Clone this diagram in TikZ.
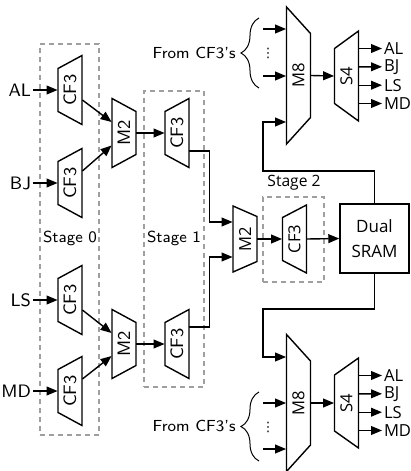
\documentclass[tikz,border=0pt]{standalone}
\usepackage{fontspec}
\usepackage{graphicx}
\newfontfamily\osans{Open Sans}
\newfontfamily\djv{DejaVu Sans}
\usetikzlibrary{calc,arrows.meta,decorations.pathreplacing}
\newcommand\trapz[7]{%
  \node[#1] (#2) at (#3,#4) {\rotatebox{90}{#7}};
  \draw[outl] ($(#2.center)+(-12,-#5)$) -- ($(#2.center)+(12,-#6)$) -- ($(#2.center)+(12,#6)$) -- ($(#2.center)+(-12,#5)$) -- cycle;
}
\begin{document}
\begin{tikzpicture}[x=0.5pt,y=-0.5pt,
  blk/.style={inner sep=0pt, minimum width=12pt, font=\sffamily\fontsize{9}{10.8}\selectfont},
  blkO/.style={blk, font=\osans\fontsize{8.3}{10}\selectfont},
  outl/.style={line width=0.7pt, line join=miter},
  arr/.style={line width=0.7pt, -{Triangle[length=5.5pt,width=4.4pt]}},
  lbl/.style={inner sep=0.8pt, font=\sffamily\fontsize{9}{10.8}\selectfont},
  lblO/.style={inner sep=0.8pt, font=\osans\fontsize{8.3}{10}\selectfont},
  stlbl/.style={inner sep=0pt, font=\sffamily\fontsize{8}{9.6}\selectfont},
  stlblO/.style={inner sep=0pt, font=\osans\fontsize{7.8}{9.4}\selectfont},
  stagebox/.style={draw=gray!75, dash pattern=on 2.5pt off 2pt, line width=0.55pt, inner sep=0pt},
  sramstyle/.style={draw, line width=0.7pt, minimum width=34.5pt, minimum height=34.5pt, align=center, inner sep=0pt, font=\osans\fontsize{8.5}{12.5}\selectfont},
  bracestyle/.style={line width=0.5pt, decorate, decoration={brace, amplitude=9pt}},
  dotsstyle/.style={inner sep=0pt, font=\djv\fontsize{6.5}{7}\selectfont}
]
\useasboundingbox (0,0) rectangle (411,471);

% stage boxes
\node[stagebox, minimum width=29.5pt, minimum height=195.5pt] (st0) at (69.5,239.5) {};
\node[stagebox, minimum width=30pt, minimum height=148pt] (st1) at (174,239) {};
\node[stagebox, minimum width=30.5pt, minimum height=42.5pt] (st2) at (293.5,239.5) {};
\node[stlbl] (lab0) at (70,238) {Stage 0};
\node[stlbl] (lab1) at (174,238) {Stage 1};
\node[stlblO] (lab2) at (294,183) {Stage 2};

% stage 0
\trapz{blk}{c0a}{70}{90}{21.5}{34.5}{CF3}
\trapz{blk}{c0b}{70}{183}{21.5}{34.5}{CF3}
\trapz{blk}{c0c}{70}{300}{21.5}{34.5}{CF3}
\trapz{blk}{c0d}{70}{391}{21.5}{34.5}{CF3}
\trapz{blk}{m0a}{124}{133}{34.5}{21.5}{M2}
\trapz{blk}{m0b}{124}{344}{34.5}{21.5}{M2}
% stage 1
\trapz{blk}{c1a}{177}{133}{21.5}{34.5}{CF3}
\trapz{blk}{c1b}{177}{344}{21.5}{34.5}{CF3}
% stage 2
\trapz{blkO}{m2}{245}{239}{33}{22.5}{M2}
\trapz{blkO}{c2}{294.5}{239}{21.5}{34}{CF3}
\node[sramstyle] (sram) at (374.5,238.5) {Dual\\SRAM};
% output muxes
\trapz{blkO}{m8t}{298.5}{75.5}{68.5}{42}{M8}
\trapz{blkO}{s4t}{346.5}{76}{27.5}{45}{S4}
\trapz{blkO}{m8b}{298.5}{403}{68.5}{42}{M8}
\trapz{blkO}{s4b}{346.5}{403}{28}{45}{S4}

% inputs
\node[lbl, anchor=east] (iAL) at (33,90) {AL};
\node[lbl, anchor=east] (iBJ) at (33,183) {BJ};
\node[lbl, anchor=east] (iLS) at (33,300) {LS};
\node[lbl, anchor=east] (iMD) at (33,391) {MD};
\draw[arr] (iAL.east) -- (c0a.west);
\draw[arr] (iBJ.east) -- (c0b.west);
\draw[arr] (iLS.east) -- (c0c.west);
\draw[arr] (iMD.east) -- (c0d.west);

\draw[arr] ($(c0a.east)+(0,10)$) -- ($(m0a.west)+(0,-11)$);
\draw[arr] ($(c0b.east)+(0,-12)$) -- ($(m0a.west)+(0,12.5)$);
\draw[arr] ($(c0c.east)+(0,10)$) -- ($(m0b.west)+(0,-11)$);
\draw[arr] ($(c0d.east)+(0,-12)$) -- ($(m0b.west)+(0,12)$);
\draw[arr] (m0a.east) -- (c1a.west);
\draw[arr] (m0b.east) -- (c1b.west);

\draw[arr] ($(c1a.east)+(0,18)$) -- ++(20,0) |- ($(m2.west)+(0,-17)$);
\draw[arr] ($(c1b.east)+(0,-17)$) -- ++(20,0) |- ($(m2.west)+(0,18)$);
\draw[arr] (m2.east) -- (c2.west);
\draw[arr] (c2.east) -- (sram.west);

\coordinate (tj) at (263,171);
\coordinate (bj) at (263,309);
\draw[arr] (sram.north) |- (tj) |- ($(m8t.west)+(0,46.5)$);
\draw[arr] (sram.south) |- (bj) |- ($(m8b.west)+(0,-46)$);

% top M8 inputs
\coordinate (ti1) at (263,29);
\coordinate (ti2) at (263,76);
\draw[arr] (ti1) -- (ti1 -| m8t.west);
\draw[arr] (ti2) -- (ti2 -| m8t.west);
\node[dotsstyle] (tdots) at (268,53) {⋮};
\coordinate (tb1) at (259,88);
\coordinate (tb2) at (259,18);
\draw[bracestyle] (tb1) -- (tb2);
\node[stlbl, anchor=east] (tfrom) at (236,53) {From CF3's};

% bottom M8 inputs
\coordinate (bi1) at (263,403);
\coordinate (bi2) at (263,449);
\draw[arr] (bi1) -- (bi1 -| m8b.west);
\draw[arr] (bi2) -- (bi2 -| m8b.west);
\node[dotsstyle] (bdots) at (268,427) {⋮};
\coordinate (bb1) at (259,461);
\coordinate (bb2) at (259,392);
\draw[bracestyle] (bb1) -- (bb2);
\node[stlbl, anchor=east] (bfrom) at (236,426.5) {From CF3's};

% outputs
\node[lblO, anchor=west] (oAL) at (382,48.5) {AL};
\node[lblO, anchor=west] (oBJ) at (382,66.8) {BJ};
\node[lblO, anchor=west] (oLS) at (382,85.2) {LS};
\node[lblO, anchor=west] (oMD) at (382,103.5) {MD};
\draw[arr] ($(s4t.east)+(0,-27.5)$) -- (oAL.west);
\draw[arr] ($(s4t.east)+(0,-9.2)$) -- (oBJ.west);
\draw[arr] ($(s4t.east)+(0,9.2)$) -- (oLS.west);
\draw[arr] ($(s4t.east)+(0,27.5)$) -- (oMD.west);
\draw[arr] (m8t.east) -- (s4t.west);

\node[lblO, anchor=west] (pAL) at (382,375.5) {AL};
\node[lblO, anchor=west] (pBJ) at (382,393.8) {BJ};
\node[lblO, anchor=west] (pLS) at (382,412.2) {LS};
\node[lblO, anchor=west] (pMD) at (382,430.5) {MD};
\draw[arr] ($(s4b.east)+(0,-27.5)$) -- (pAL.west);
\draw[arr] ($(s4b.east)+(0,-9.2)$) -- (pBJ.west);
\draw[arr] ($(s4b.east)+(0,9.2)$) -- (pLS.west);
\draw[arr] ($(s4b.east)+(0,27.5)$) -- (pMD.west);
\draw[arr] (m8b.east) -- (s4b.west);
\end{tikzpicture}
\end{document}
